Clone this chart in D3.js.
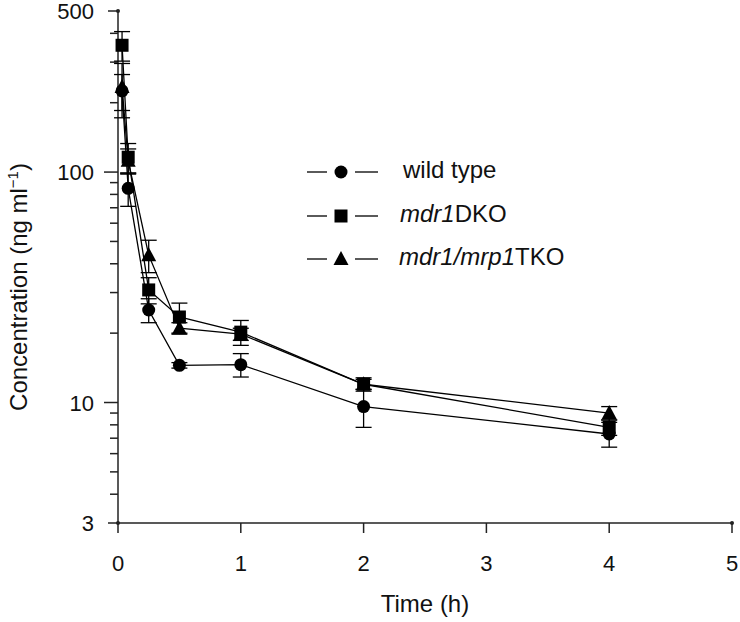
<!DOCTYPE html>
<html><head><meta charset="utf-8">
<script src="https://cdn.jsdelivr.net/npm/d3@7"></script>
<style>body{margin:0;background:#fff}svg{display:block}text{font-family:"Liberation Sans",Arial,Helvetica,sans-serif;fill:#111}</style>
</head><body>
<svg id="c" width="740" height="622"></svg>
<script>
const times = [0.033, 0.083, 0.25, 0.5, 1, 2, 4];
const seriesNames = ["wild type", "mdr1DKO", "mdr1/mrp1TKO"];
const wildType = [225, 85, 25.2, 14.5, 14.6, 9.6, 7.3];
const wildTypeErr = [40, 14, 3, 0.4, 1.7, 1.8, 0.9];
const dko = [355, 116, 30.8, 23.5, 20.2, 12.0, 7.8];
const dkoErr = [52, 17, 4, 3.5, 2.5, 0.8, 0.6];
const tko = [234, 112, 43.6, 21, 19.8, 12.0, 9.0];
const tkoErr = [62, 14, 7, 1.2, 1.2, 0.6, 0.6];
const xTicks = [0, 1, 2, 3, 4, 5];
const yMajor = [3, 10, 100, 500];
const yMinor = [4, 5, 6, 7, 8, 9, 20, 30, 40, 50, 60, 70, 80, 90, 200, 300, 400];

const svg = d3.select("#c");
const x = d3.scaleLinear().domain([0, 5]).range([118, 732]);
const y = d3.scaleLog().domain([3, 500]).range([523, 11]);

// axes
const ax = svg.append("g").attr("stroke", "#222").attr("stroke-width", 1.5);
ax.append("line").attr("x1", x(0)).attr("x2", x(5)).attr("y1", y(3)).attr("y2", y(3));
ax.append("line").attr("x1", x(0)).attr("x2", x(0)).attr("y1", y(3)).attr("y2", y(500));
ax.selectAll(".xt").data(xTicks).join("line")
  .attr("x1", d => x(d)).attr("x2", d => x(d)).attr("y1", y(3)).attr("y2", y(3) + 10);
ax.selectAll(".ymj").data(yMajor).join("line")
  .attr("x1", d => (d === 10 || d === 100) ? x(0) - 14 : x(0) - 10).attr("x2", x(0))
  .attr("y1", d => y(d)).attr("y2", d => y(d));
ax.selectAll(".ymn").data(yMinor).join("line")
  .attr("x1", x(0) - 8).attr("x2", x(0))
  .attr("y1", d => y(d)).attr("y2", d => y(d));
svg.selectAll(".dot").data([[0, 3], [0, 500], [5, 3]]).join("circle")
  .attr("cx", d => x(d[0])).attr("cy", d => y(d[1])).attr("r", 2).attr("fill", "#222");

svg.selectAll(".xl").data(xTicks).join("text")
  .attr("x", d => x(d)).attr("y", 571).attr("text-anchor", "middle")
  .attr("font-size", 22).text(d => d);
svg.selectAll(".yl").data(yMajor).join("text")
  .attr("x", 94).attr("y", d => y(d) + 8).attr("text-anchor", "end")
  .attr("font-size", 22).text(d => d);

svg.append("text").attr("x", 425).attr("y", 612).attr("text-anchor", "middle")
  .attr("font-size", 24).text("Time (h)");
const yl = svg.append("text").attr("transform", "translate(27,287) rotate(-90)")
  .attr("text-anchor", "middle").attr("font-size", 24);
yl.append("tspan").text("Concentration (ng ml");
yl.append("tspan").attr("dy", -9).attr("font-size", 15).text("−1");
yl.append("tspan").attr("dy", 9).text(")");

// data series
const series = [
  {name: seriesNames[0], vals: wildType, err: wildTypeErr, shape: "circle"},
  {name: seriesNames[1], vals: dko, err: dkoErr, shape: "square"},
  {name: seriesNames[2], vals: tko, err: tkoErr, shape: "triangle"}
];
function marker(g, shape, cx, cy) {
  if (shape === "circle") g.append("circle").attr("cx", cx).attr("cy", cy).attr("r", 6.5).attr("fill", "#000");
  else if (shape === "square") g.append("rect").attr("x", cx - 6.5).attr("y", cy - 6.5).attr("width", 13).attr("height", 13).attr("fill", "#000");
  else g.append("path").attr("d", `M${cx},${cy - 8}L${cx + 7.5},${cy + 6}L${cx - 7.5},${cy + 6}Z`).attr("fill", "#000");
}
const line = d3.line().x(d => x(d[0])).y(d => y(d[1]));
series.forEach(s => {
  svg.append("path").datum(times.map((t, i) => [t, s.vals[i]]))
    .attr("d", line).attr("fill", "none").attr("stroke", "#000").attr("stroke-width", 1.3);
});
series.forEach(s => {
  const g = svg.append("g").attr("stroke", "#000").attr("stroke-width", 1.3);
  times.forEach((t, i) => {
    const v = s.vals[i], e = s.err[i];
    const yt = y(v + e), yb = y(Math.max(v - e, 3.01));
    g.append("line").attr("x1", x(t)).attr("x2", x(t)).attr("y1", yt).attr("y2", yb);
    g.append("line").attr("x1", x(t) - 8).attr("x2", x(t) + 8).attr("y1", yt).attr("y2", yt);
    g.append("line").attr("x1", x(t) - 8).attr("x2", x(t) + 8).attr("y1", yb).attr("y2", yb);
  });
});
[series[0], series[1], series[2]].forEach(s => {
  const g = svg.append("g");
  times.forEach((t, i) => marker(g, s.shape, x(t), y(s.vals[i])));
});

// legend
const legY = [172, 216, 259];
series.forEach((s, i) => {
  const g = svg.append("g");
  g.append("line").attr("x1", 307).attr("x2", 327).attr("y1", legY[i]).attr("y2", legY[i]).attr("stroke", "#000").attr("stroke-width", 1.3);
  g.append("line").attr("x1", 355).attr("x2", 378).attr("y1", legY[i]).attr("y2", legY[i]).attr("stroke", "#000").attr("stroke-width", 1.3);
  marker(g, s.shape, 341, legY[i]);
});
const lt = svg.append("g").attr("font-size", 24);
lt.append("text").attr("x", 403).attr("y", legY[0] + 6).text("wild type");
const t2 = lt.append("text").attr("x", 400).attr("y", legY[1] + 6);
t2.append("tspan").attr("font-style", "italic").text("mdr1");
t2.append("tspan").text("DKO");
const t3 = lt.append("text").attr("x", 399).attr("y", legY[2] + 6);
t3.append("tspan").attr("font-style", "italic").text("mdr1/mrp1");
t3.append("tspan").text("TKO");
</script>
</body></html>
